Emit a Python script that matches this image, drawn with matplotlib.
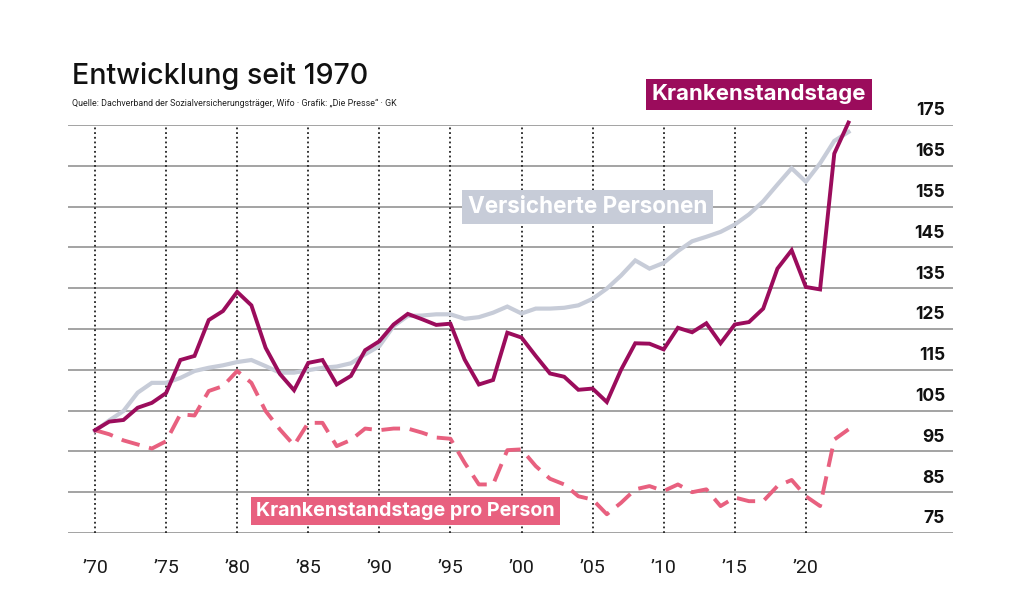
import matplotlib
matplotlib.use("Agg")
import matplotlib.pyplot as plt
import matplotlib.transforms as mtransforms

# data (index, 1970 = 100)
years = list(range(1970, 2024))
krankenstandstage = [100.2, 102.3, 102.7, 105.7, 106.9, 109.3, 117.4, 118.4, 127.2, 129.4,
                     134.1, 130.8, 120.4, 114.0, 110.0, 116.7, 117.4, 111.4, 113.5, 119.8,
                     122.0, 126.1, 128.7, 127.4, 126.0, 126.3, 117.5, 111.4, 112.5, 124.1,
                     122.9, 118.4, 114.1, 113.3, 110.1, 110.4, 107.1, 115.0, 121.5, 121.4,
                     120.0, 125.3, 124.2, 126.4, 121.5, 126.1, 126.7, 130.0, 139.8, 144.3,
                     135.3, 134.7, 168.0, 175.6]
versicherte = [100.0, 102.6, 104.9, 109.4, 111.8, 111.8, 113.0, 114.7, 115.5, 116.1,
               116.9, 117.4, 115.9, 114.3, 114.3, 114.9, 115.5, 115.8, 116.6, 118.8,
               120.8, 125.7, 128.2, 128.3, 128.6, 128.6, 127.5, 127.9, 129.0, 130.5,
               128.8, 130.0, 130.0, 130.2, 130.8, 132.4, 134.9, 138.1, 141.8, 139.8,
               141.2, 144.1, 146.5, 147.6, 148.8, 150.6, 153.1, 156.3, 160.4, 164.4,
               161.1, 165.6, 171.1, 173.3]
pro_person = [100.2, 99.2, 97.7, 96.7, 95.7, 97.5, 104.1, 103.8, 109.8, 111.0,
              114.7, 111.8, 104.9, 100.4, 96.5, 102.0, 102.0, 96.3, 97.8, 100.6,
              100.2, 100.6, 100.6, 99.6, 98.4, 98.1, 92.2, 86.9, 86.9, 95.3,
              95.5, 91.4, 88.3, 86.9, 84.0, 83.2, 79.6, 82.4, 85.7, 86.5,
              85.3, 86.9, 85.0, 85.7, 81.6, 83.7, 82.8, 82.8, 86.5, 88.0,
              84.0, 81.6, 97.9, 100.4]

grid_values = [75, 85, 95, 105, 115, 125, 135, 145, 155, 165, 175]
tick_years = [1970, 1975, 1980, 1985, 1990, 1995, 2000, 2005, 2010, 2015, 2020]
tick_labels = ["\u201970", "\u201975", "\u201980", "\u201985", "\u201990", "\u201995",
               "\u201900", "\u201905", "\u201910", "\u201915", "\u201920"]

c_mag = "#9b0c5c"
c_grey = "#c7ccd8"
c_pink = "#e8607f"

narrow = ["Roboto", "DejaVu Sans"]
bold_font = ["Inter", "DejaVu Sans"]

fig = plt.figure(figsize=(10.24, 6.13), dpi=100)
fig.patch.set_facecolor("white")
ax = fig.add_axes([68 / 1024, 80 / 613, 885 / 1024, 408 / 613])
ax.set_xlim(1968.1, 2030.35)
ax.set_ylim(75, 175)
for s in ax.spines.values():
    s.set_visible(False)
ax.set_xticks([])
ax.set_yticks([])

# horizontal grid
for v in grid_values:
    ax.axhline(v, color="#8a8a8a", lw=1.1, zorder=1)
# vertical dotted year lines
for yr in tick_years:
    ax.plot([yr, yr], [75, 175], color="#222222", lw=1.3, ls=(0, (1, 1.6)), zorder=1)

# series
ax.plot(years, versicherte, color=c_grey, lw=3, zorder=3, clip_on=False,
        solid_joinstyle="miter")
ax.plot(years, pro_person, color=c_pink, lw=2.8, ls=(0, (4.8, 2.5)), zorder=3,
        clip_on=False)
ax.plot(years, krankenstandstage, color=c_mag, lw=2.8, zorder=4, clip_on=False,
        solid_joinstyle="miter")

# right-hand value labels
trans = mtransforms.blended_transform_factory(ax.transAxes, ax.transData)
off = mtransforms.offset_copy(trans, fig=fig, x=0, y=4, units="points")
for v in grid_values:
    ax.text(0.991, v, str(v), transform=off, ha="right", va="bottom",
            fontsize=12.5, fontweight="bold", family=bold_font, color="#111111")

# year labels
for yr, lab in zip(tick_years, tick_labels):
    ax.text(yr, 66.3, lab, ha="center", va="center", fontsize=14,
            family=narrow, color="#1a1a1a", clip_on=False)

# series labels
box = dict(boxstyle="square,pad=0.25", ec="none")
ax.text(2016.7, 182.5, "Krankenstandstage", ha="center", va="center", fontsize=16,
        fontweight="bold", family=bold_font, color="white",
        bbox=dict(box, fc=c_mag), clip_on=False)
ax.text(2004.65, 154.9, "Versicherte Personen", ha="center", va="center", fontsize=16.2,
        fontweight="bold", family=bold_font, color="white",
        bbox=dict(box, fc=c_grey), zorder=5)
ax.text(1991.85, 80.4, "Krankenstandstage pro Person", ha="center", va="center",
        fontsize=14.2, fontweight="bold", family=bold_font, color="white",
        bbox=dict(box, fc=c_pink), zorder=5)

# title and source
fig.text(72 / 1024, 1 - 76 / 613, "Entwicklung seit 1970", ha="left", va="center",
         fontsize=20.6, fontweight="medium", family=bold_font, color="#111111")
fig.text(72 / 1024, 1 - 103 / 613,
         "Quelle: Dachverband der Sozialversicherungsträger, Wifo \u00b7 Grafik: \u201eDie Presse\u201c \u00b7 GK",
         ha="left", va="center", fontsize=6.4, family=narrow, color="#222222")

fig.savefig("out.png", dpi=100)
